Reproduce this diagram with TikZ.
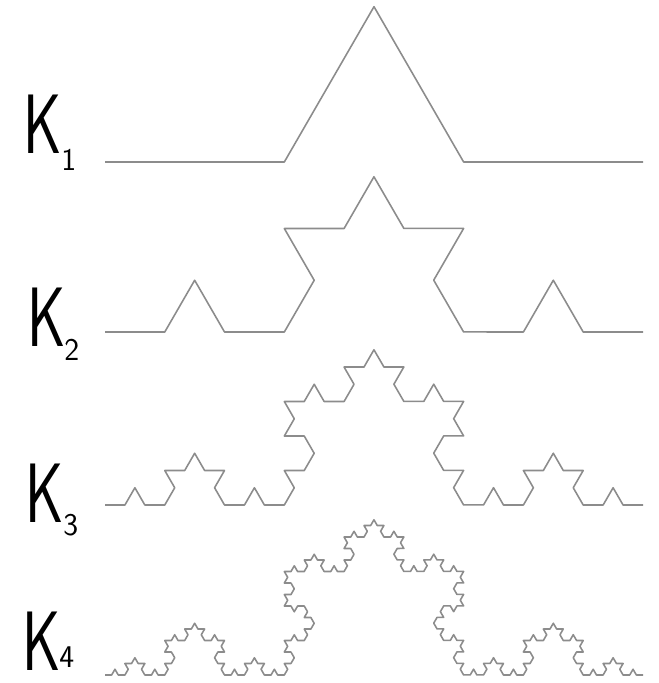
\documentclass[tikz,border=0pt]{standalone}
\usetikzlibrary{decorations.fractals}

\begin{document}
\begin{tikzpicture}[x=0.02cm,y=-0.02cm,
  koch/.style={draw=black!45,line width=0.9pt,line join=round,decoration={Koch snowflake}},
  kletter/.style={font=\sffamily\fontsize{48}{48}\selectfont,inner sep=0pt,anchor=base west,xscale=0.7,transform shape},
  kindex/.style={font=\sffamily\fontsize{18}{18}\selectfont,inner sep=0pt,anchor=base west}]

   \useasboundingbox (0,0) rectangle (659,683);

   % curves, one more iteration each time
   \draw[koch] decorate{ (105,162) -- (643,162) };
   \draw[koch] decorate{ decorate{ (105,332) -- (643,332) } };
   \draw[koch] decorate{ decorate{ decorate{ (105,505) -- (643,505) } } };
   \draw[koch] decorate{ decorate{ decorate{ decorate{ (105,675) -- (643,675) } } } };

   % labels
   \node[kletter] (k1) at (23,153) {K};
   \node[kindex] (i1) at (61,170) {1};
   \node[kletter] (k2) at (27,346) {K};
   \node[kindex] (i2) at (64,360) {2};
   \node[kletter] (k3) at (25,522) {K};
   \node[kindex] (i3) at (63,535) {3};
   \node[kletter] (k4) at (22,670) {K};
   \node[kindex] (i4) at (59,667) {4};

\end{tikzpicture}
\end{document}
